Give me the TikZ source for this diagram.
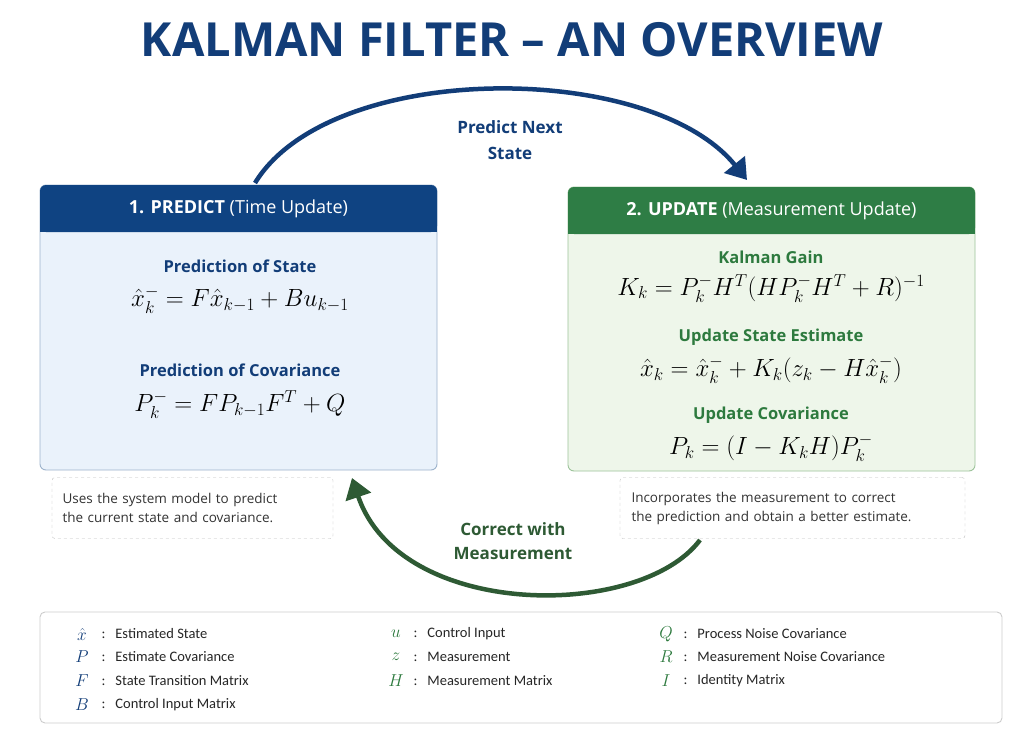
\documentclass[tikz,border=0pt]{standalone}
\usepackage{amsmath}
\usepackage{fontspec}
\setmainfont{Open Sans}
\newfontfamily\legfont{Carlito}
\usetikzlibrary{arrows.meta,positioning}
\definecolor{navy}{HTML}{123D78}
\definecolor{navyhead}{HTML}{0F4382}
\definecolor{bluebody}{HTML}{EAF2FB}
\definecolor{blueline}{HTML}{9DB3CC}
\definecolor{greenhead}{HTML}{2E7D45}
\definecolor{greenbody}{HTML}{EEF6EA}
\definecolor{greenline}{HTML}{9CC39A}
\definecolor{greentext}{HTML}{2D7A3E}
\definecolor{darkgreen}{HTML}{2E5A34}
\tikzset{
  box/.style={draw, rounded corners=6pt, line width=0.9pt},
  head/.style={text=white, font=\bfseries\fontsize{18}{20}\selectfont},
  sec/.style={font=\bfseries\fontsize{16.5}{18}\selectfont},
  eq/.style={font=\fontsize{23}{26}\selectfont},
  note/.style={draw=gray!50, dashed, rounded corners=3pt, fill=white, align=left,
    font=\fontsize{13.5}{19}\selectfont, text=black!80, inner sep=0pt},
  flow/.style={line width=4.5pt, -{Triangle[length=20pt,width=26pt]}},
  sym/.style={anchor=center, font=\fontsize{18}{18}\selectfont},
  lab/.style={anchor=west, font=\legfont\fontsize{14.5}{16}\selectfont, text=black!85},
}
\begin{document}
\begin{tikzpicture}[x=1pt,y=-1pt]
\useasboundingbox[fill=white] (0,0) rectangle (1024,738);
% title
\node[text=navy, font=\bfseries\fontsize{47}{50}\selectfont] (title) at (512,40) {KALMAN FILTER -- AN OVERVIEW};

% predict box
\filldraw[box, draw=blueline, fill=bluebody] (40,185) rectangle (437,470);
\fill[navyhead, rounded corners=6pt] (40,185) rectangle (437,232);
\fill[navyhead] (40,215) rectangle (437,232);
\node[head] (phead) at (238.5,209) {1. PREDICT {\mdseries(Time Update)}};
\node[sec, text=navy] (pstate) at (240,266) {Prediction of State};
\node[eq, below=7pt of pstate] (peq1) {$\hat{x}_k^- = F\hat{x}_{k-1} + Bu_{k-1}$};
\node[sec, text=navy] (pcov) at (240,370) {Prediction of Covariance};
\node[eq, below=7pt of pcov] (peq2) {$P_k^- = FP_{k-1}F^T + Q$};

% update box
\filldraw[box, draw=greenline, fill=greenbody] (568,187) rectangle (975,471);
\fill[greenhead, rounded corners=6pt] (568,187) rectangle (975,234);
\fill[greenhead] (568,217) rectangle (975,234);
\node[head] (uhead) at (771.5,211) {2. UPDATE {\mdseries(Measurement Update)}};
\node[sec, text=greentext] (ugain) at (771,257) {Kalman Gain};
\node[eq, below=4pt of ugain] (ueq1) {$K_k = P_k^-H^T(HP_k^-H^T + R)^{-1}$};
\node[sec, text=greentext] (ustate) at (771,337) {Update State Estimate};
\node[eq, below=4pt of ustate] (ueq2) {$\hat{x}_k = \hat{x}_k^- + K_k(z_k - H\hat{x}_k^-)$};
\node[sec, text=greentext] (ucov) at (771,415) {Update Covariance};
\node[eq, below=4pt of ucov] (ueq3) {$P_k = (I - K_kH)P_k^-$};

% notes
\node[note, minimum width=281pt, minimum height=61pt, text width=260pt] (pnote) at (192.5,508)
  {Uses the system model to predict\\the current state and covariance.};
\node[note, minimum width=345pt, minimum height=61pt, text width=322pt] (unote) at (792.5,508)
  {Incorporates the measurement to correct\\the prediction and obtain a better estimate.};

% cycle arrows
\coordinate (ptop) at (255,183);
\coordinate (utop) at (747,180);
\coordinate (ubot) at (700,540);
\coordinate (pbot) at (352,478);
\draw[flow, navy] (ptop) .. controls (330,60) and (650,60) .. (utop);
\draw[flow, darkgreen] (ubot) .. controls (640,620) and (400,620) .. (pbot);
\node[text=navy, align=center, font=\bfseries\fontsize{17}{26}\selectfont] (predlab) at (510,140) {Predict Next\\State};
\node[text=darkgreen, align=center, font=\bfseries\fontsize{17}{24}\selectfont] (corrlab) at (513,541) {Correct with\\Measurement};

% legend
\draw[draw=gray!40, line width=0.9pt, rounded corners=5pt] (40,612) rectangle (1002,723);
\foreach \s/\t/\y [count=\i] in {{\hat{x}}/Estimated State/634, P/Estimate Covariance/657,
    F/State Transition Matrix/681, B/Control Input Matrix/705}{
  \node[sym, text=navy] (la\i) at (82,\y) {$\s$};
  \node[lab] (lb\i) at (98,\y) {:\hspace{10pt}\t};
}
\foreach \s/\t/\y [count=\i] in {u/Control Input/634, z/Measurement/657, H/Measurement Matrix/681}{
  \node[sym, text=greentext] (ma\i) at (396,\y) {$\s$};
  \node[lab] (mb\i) at (410,\y) {:\hspace{10pt}\t};
}
\foreach \s/\t/\y [count=\i] in {Q/Process Noise Covariance/634, R/Measurement Noise Covariance/657,
    I/Identity Matrix/681}{
  \node[sym, text=greentext] (ra\i) at (666,\y) {$\s$};
  \node[lab] (rb\i) at (680,\y) {:\hspace{10pt}\t};
}
\end{tikzpicture}
\end{document}
